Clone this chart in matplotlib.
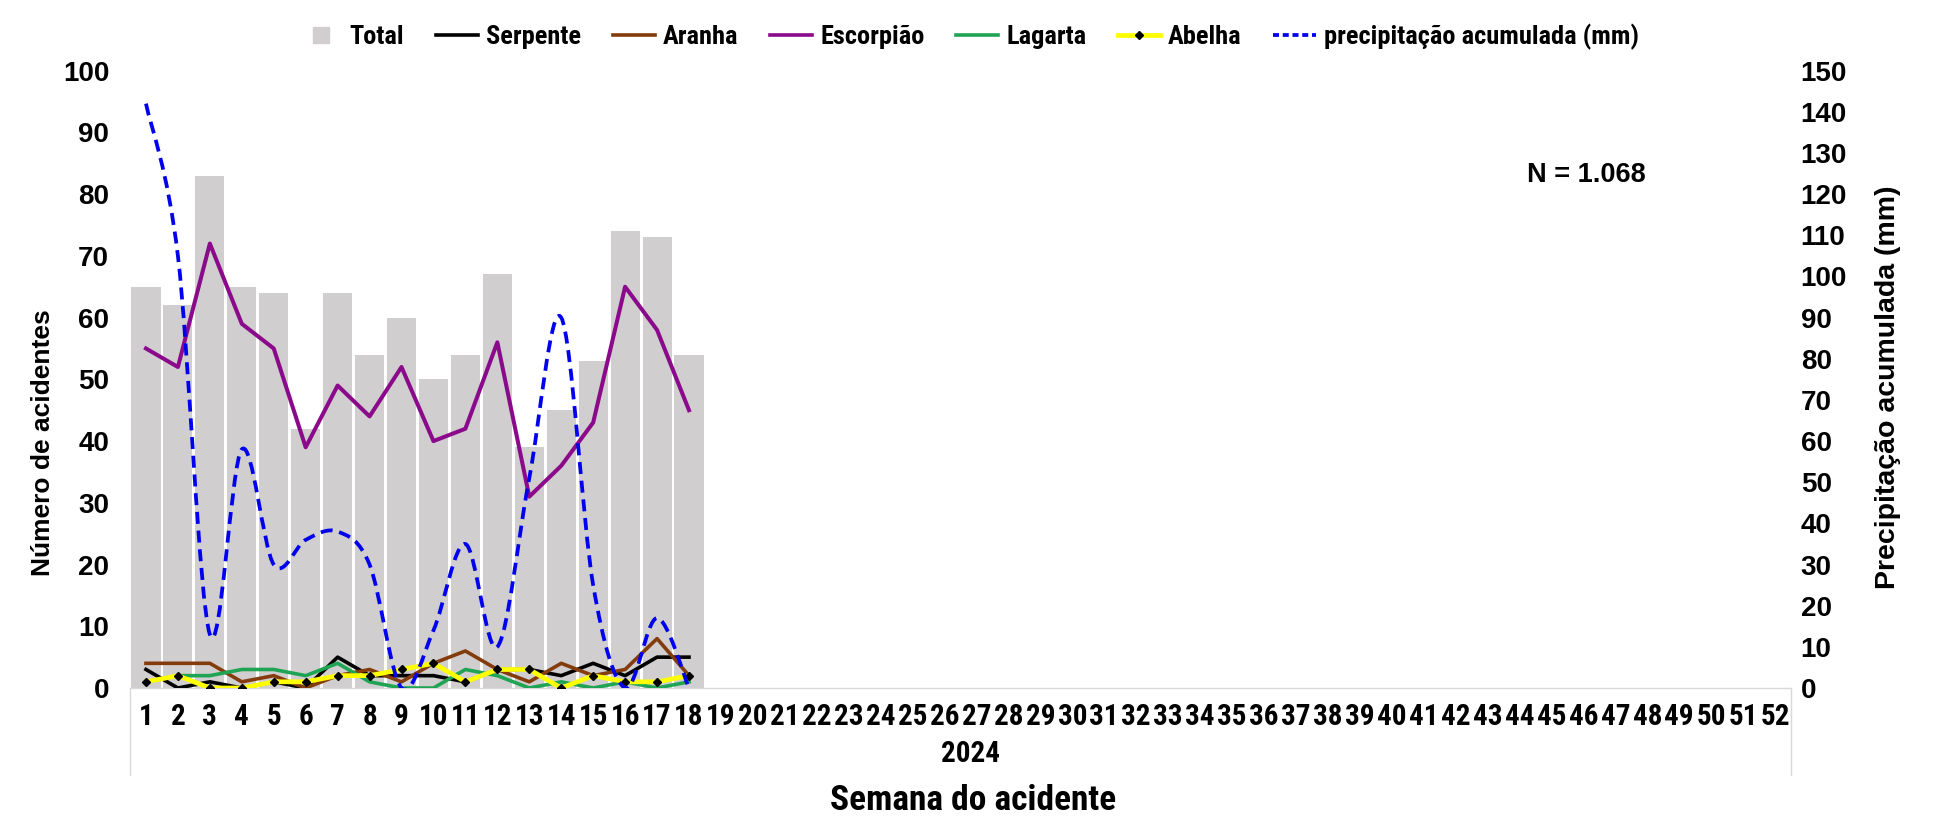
import os
import matplotlib
matplotlib.use("Agg")
import matplotlib.pyplot as plt
from matplotlib import font_manager
from matplotlib.font_manager import FontProperties
from matplotlib.path import Path
from matplotlib.patches import PathPatch
from matplotlib.lines import Line2D
import numpy as np

# Epidemiological weeks of 2024
weeks = list(range(1, 53))
data_weeks = list(range(1, 19))

# Weekly accident counts
total = [65, 62, 83, 65, 64, 42, 64, 54, 60, 50, 54, 67, 39, 45, 53, 74, 73, 54]
serpente = [3, 0, 1, 0, 1, 0, 5, 2, 2, 2, 1, 3, 3, 2, 4, 2, 5, 5]
aranha = [4, 4, 4, 1, 2, 0, 2, 3, 1, 4, 6, 3, 1, 4, 2, 3, 8, 2]
escorpiao = [55, 52, 72, 59, 55, 39, 49, 44, 52, 40, 42, 56, 31, 36, 43, 65, 58, 45]
lagarta = [1, 2, 2, 3, 3, 2, 4, 1, 0, 0, 3, 2, 0, 1, 0, 1, 0, 1]
abelha = [1, 2, 0, 0, 1, 1, 2, 2, 3, 4, 1, 3, 3, 0, 2, 1, 1, 2]

# Accumulated weekly rainfall (mm)
precipitacao = [142, 105, 13, 58, 30, 36, 38, 30, 0, 14, 35, 10, 51, 90, 25, 0, 17, 0]

y_ticks = list(range(0, 101, 10))
y2_ticks = list(range(0, 151, 10))

# Fonts: a regular bold face and a narrow bold face
available = {f.name for f in font_manager.fontManager.ttflist}
MAIN = "Liberation Sans" if "Liberation Sans" in available else "DejaVu Sans"


def find_narrow_file():
    files = [f.fname for f in font_manager.fontManager.ttflist]
    files += font_manager.findSystemFonts()
    prefs = ["liberationsansnarrow-bold.", "arialnarrow-bold", "arialnb",
             "robotocondensed-bold.", "notosans-condensedbold.",
             "opensans_condensed-bold.", "opensanscondensed-bold.",
             "dejavusanscondensed-bold."]
    for p in prefs:
        for f in files:
            if os.path.basename(f).lower().startswith(p):
                return f
    return None


NARROW_FILE = find_narrow_file()


def narrow(size):
    if NARROW_FILE:
        return FontProperties(fname=NARROW_FILE, size=size)
    return FontProperties(family="DejaVu Sans", stretch="condensed", weight="bold", size=size)


W, H = 1944, 832
fig = plt.figure(figsize=(W / 100, H / 100), dpi=100)

x0, x1 = 130, 1791
y_top, y_bot = 70.7, 688
ax = fig.add_axes([x0 / W, 1 - y_bot / H, (x1 - x0) / W, (y_bot - y_top) / H])
ax2 = ax.twinx()

# Bars and species lines on the primary axis
ax.bar(data_weeks, total, width=0.91, color="#d0cece", zorder=1)
lw = 2.6
ax.plot(data_weeks, serpente, color="black", lw=lw, zorder=3)
ax.plot(data_weeks, aranha, color="#843c0c", lw=lw, zorder=3)
ax.plot(data_weeks, escorpiao, color="#8b0a8b", lw=lw + 0.3, zorder=3)
ax.plot(data_weeks, lagarta, color="#1fa454", lw=lw, zorder=3)
ax.plot(data_weeks, abelha, color="#ffff00", lw=lw + 0.8, zorder=4,
        marker="D", markersize=4.5, markerfacecolor="black", markeredgecolor="black")

ax.set_xlim(0.5, 52.5)
ax.set_ylim(0, 100)
ax2.set_ylim(0, 150)


def smooth_path(xs, ys):
    pts = np.column_stack([xs, ys]).astype(float)
    n = len(pts)
    verts = [pts[0]]
    codes = [Path.MOVETO]
    for i in range(n - 1):
        p0 = pts[i - 1] if i > 0 else pts[i]
        p1 = pts[i]
        p2 = pts[i + 1]
        p3 = pts[i + 2] if i + 2 < n else pts[i + 1]
        verts += [p1 + (p2 - p0) / 6, p2 - (p3 - p1) / 6, p2]
        codes += [Path.CURVE4] * 3
    return Path(verts, codes)


rain_color = "#0000ee"
rain_lw = 2.7
ax2.add_patch(PathPatch(smooth_path(data_weeks, precipitacao), fill=False,
                        edgecolor=rain_color, lw=rain_lw,
                        linestyle=(0, (3.2, 1.8)), zorder=5))

# Axes styling
for a in (ax, ax2):
    for side in ("top", "left", "right"):
        a.spines[side].set_visible(False)
ax2.spines["bottom"].set_visible(False)
ax.spines["bottom"].set_color("#d9d9d9")
ax.spines["bottom"].set_linewidth(1.0)

ax.set_yticks(y_ticks)
ax.set_yticklabels([str(v) for v in y_ticks], fontfamily=MAIN, fontweight="bold", fontsize=20)
ax.tick_params(axis="y", length=0, pad=15)
ax2.set_yticks(y2_ticks)
ax2.set_yticklabels([str(v) for v in y2_ticks], fontfamily=MAIN, fontweight="bold", fontsize=20)
ax2.tick_params(axis="y", length=0, pad=7)

ax.set_xticks(weeks)
ax.set_xticklabels([str(w) for w in weeks], fontproperties=narrow(21))
ax.tick_params(axis="x", length=0, pad=10.5)

# Year group under the week labels
ah = y_bot - y_top
aw = x1 - x0
for xa in (0, 1):
    ax.plot([xa, xa], [0, -(775 - y_bot) / ah], transform=ax.transAxes,
            color="#d9d9d9", lw=1.0, clip_on=False)
ax.text((970 - x0) / aw, -(754 - y_bot) / ah, "2024", transform=ax.transAxes,
        ha="center", va="center", fontproperties=narrow(21))

fig.text(973 / W, 1 - 800 / H, "Semana do acidente", ha="center", va="center",
         fontproperties=narrow(25.5))
fig.text(43 / W, 1 - 443 / H, "Número de acidentes", rotation=90, ha="center",
         va="center", fontfamily=MAIN, fontweight="bold", fontsize=19)
fig.text(1888 / W, 1 - 387 / H, "Precipitação acumulada (mm)", rotation=90,
         ha="center", va="center", fontfamily=MAIN, fontweight="bold", fontsize=20.5)
fig.text(1586 / W, 1 - 175 / H, "N = 1.068", ha="center", va="center",
         fontfamily=MAIN, fontweight="bold", fontsize=19.5)

# Legend
handles = [
    Line2D([], [], linestyle="none", marker="s", markersize=12, color="#d0cece"),
    Line2D([], [], color="black", lw=lw),
    Line2D([], [], color="#843c0c", lw=lw),
    Line2D([], [], color="#8b0a8b", lw=lw),
    Line2D([], [], color="#1fa454", lw=lw),
    Line2D([], [], color="#ffff00", lw=lw + 0.8, marker="D", markersize=4,
           markerfacecolor="black", markeredgecolor="black"),
    Line2D([], [], color=rain_color, lw=rain_lw, linestyle=(0, (1.6, 1.0))),
]
labels = ["Total", "Serpente", "Aranha", "Escorpião", "Lagarta", "Abelha",
          "precipitação acumulada (mm)"]
fig.legend(handles, labels, loc="center", bbox_to_anchor=(969 / W, 1 - 37 / H),
           ncol=7, frameon=False, handlelength=1.6, handletextpad=0.3,
           columnspacing=1.2, numpoints=1, prop=narrow(19.0))

fig.savefig("out.png", dpi=100)
